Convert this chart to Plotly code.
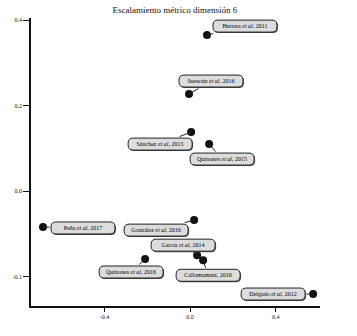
import plotly.graph_objects as go

# Data
labels = ["Herrera <i>et al</i>, 2011", "Suescún <i>et al</i>, 2016", "Sánchez <i>et al</i>, 2015",
          "Quinones <i>et al</i>, 2015", "Peña <i>et al</i>, 2017", "González <i>et al</i>, 2016",
          "García <i>et al</i>, 2014", "Callomamani, 2016", "Quinones <i>et al</i>, 2016",
          "Delgado <i>et al</i>, 2012"]
x_vals = [0.079, -0.005, 0.005, 0.089, -0.687, 0.019, 0.033, 0.061, -0.210, 0.575]
y_vals = [0.365, 0.227, 0.138, 0.110, -0.084, -0.068, -0.150, -0.162, -0.159, -0.241]
x_tickvals = [-0.4, 0.0, 0.4]
x_ticktext = ["-0.4", "0.0", "0.4"]
y_tickvals = [-0.2, 0.0, 0.2, 0.4]
y_ticktext = ["-0.1", "0.0", "0.2", "0.4"]
title = "Escalamiento métrico dimensión 6"

# label offsets (pixels, layout only)
offsets = [(38, -9), (22, -13), (-31, 12), (13, 15), (40, 1), (-38, 10),
           (-14, -10), (5, 15), (-14, 13), (-40, 0)]

BW, BH, R = 64, 12, 5

def rounded_path(cx, cy, w, h, r):
    x0, x1 = cx - w / 2, cx + w / 2
    y0, y1 = cy - h / 2, cy + h / 2
    return (f"M{x0 + r},{y0} L{x1 - r},{y0} Q{x1},{y0} {x1},{y0 + r} "
            f"L{x1},{y1 - r} Q{x1},{y1} {x1 - r},{y1} L{x0 + r},{y1} "
            f"Q{x0},{y1} {x0},{y1 - r} L{x0},{y0 + r} Q{x0},{y0} {x0 + r},{y0} Z")

fig = go.Figure()
fig.add_trace(go.Scatter(x=x_vals, y=y_vals, mode="markers",
                         marker=dict(size=8, color="#111111"), hoverinfo="skip",
                         showlegend=False))

shapes = []
annotations = []
for lab, xv, yv, (dx, dy) in zip(labels, x_vals, y_vals, offsets):
    # shadow
    shapes.append(dict(type="path", xref="x", yref="y", xsizemode="pixel", ysizemode="pixel",
                       xanchor=xv, yanchor=yv,
                       path=rounded_path(dx + 1, -dy - 1, BW, BH, R),
                       fillcolor="#555555", line=dict(width=0), layer="above"))
    shapes.append(dict(type="path", xref="x", yref="y", xsizemode="pixel", ysizemode="pixel",
                       xanchor=xv, yanchor=yv,
                       path=rounded_path(dx, -dy, BW, BH, R),
                       fillcolor="#dcdcdc", line=dict(width=1, color="#222222"), layer="above"))
    annotations.append(dict(x=xv, y=yv, xref="x", yref="y", text=lab, showarrow=True,
                            ax=dx, ay=dy, arrowhead=0, arrowwidth=1, arrowcolor="#222222",
                            standoff=0, startstandoff=0, width=BW, height=BH,
                            font=dict(family="Liberation Serif", size=6, color="#000000"),
                            align="center", valign="middle"))

fig.update_layout(
    width=357, height=336,
    margin=dict(l=31, r=37, t=18, b=30),
    paper_bgcolor="white", plot_bgcolor="white",
    title=dict(text=title, x=0.49, xanchor="center", y=0.97, yanchor="middle",
               font=dict(family="Liberation Serif", size=9, color="#111111")),
    shapes=shapes, annotations=annotations,
    xaxis=dict(range=[-0.743, 0.607], tickvals=x_tickvals, ticktext=x_ticktext,
               showgrid=False, zeroline=False, showline=True, linecolor="#111111", linewidth=1.5,
               ticks="outside", ticklen=4, tickcolor="#111111", tickwidth=1,
               tickfont=dict(family="Liberation Serif", size=6, color="#111111")),
    yaxis=dict(range=[-0.269, 0.405], tickvals=y_tickvals, ticktext=y_ticktext,
               showgrid=False, zeroline=False, showline=True, linecolor="#111111", linewidth=1.5,
               ticks="outside", ticklen=6, tickcolor="#111111", tickwidth=1,
               tickfont=dict(family="Liberation Serif", size=6, color="#111111")),
)

fig.write_html("out.html", config={"displayModeBar": False},
               post_script="document.body.style.margin='0';")
